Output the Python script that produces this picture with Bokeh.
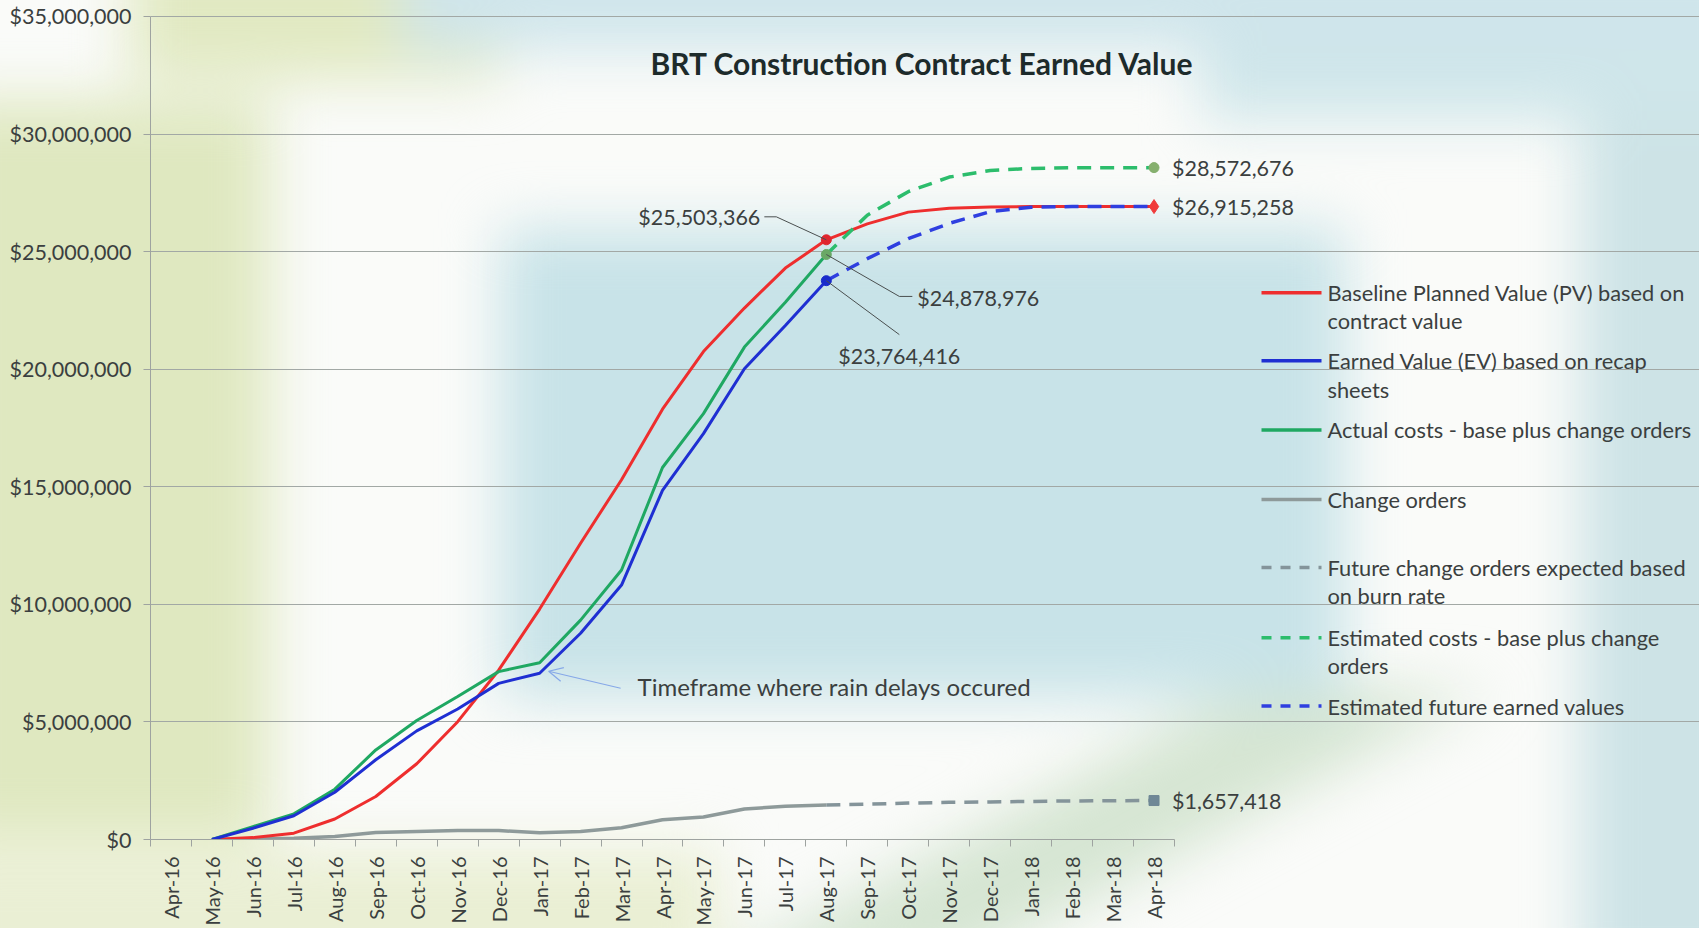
import math
from bokeh.plotting import figure
from bokeh.models import (Range1d, FixedTicker, NumeralTickFormatter, Label, Arrow, OpenHead,
                          ColumnDataSource, InlineStyleSheet)
from bokeh.embed import file_html
from bokeh.resources import INLINE

# ---------------- data ----------------
months = ["Apr-16", "May-16", "Jun-16", "Jul-16", "Aug-16", "Sep-16", "Oct-16", "Nov-16", "Dec-16",
          "Jan-17", "Feb-17", "Mar-17", "Apr-17", "May-17", "Jun-17", "Jul-17", "Aug-17",
          "Sep-17", "Oct-17", "Nov-17", "Dec-17", "Jan-18", "Feb-18", "Mar-18", "Apr-18"]
N = None
planned_value = [N, 0, 80_000, 270_000, 870_000, 1_830_000, 3_220_000, 5_010_000, 7_200_000,
                 9_800_000, 12_600_000, 15_300_000, 18_300_000, 20_750_000, 22_600_000, 24_300_000,
                 25_503_366, 26_180_000, 26_680_000, 26_840_000, 26_900_000, 26_915_258,
                 26_915_258, 26_915_258, 26_915_258]
earned_value = [N, 0, 480_000, 1_010_000, 2_010_000, 3_390_000, 4_620_000, 5_550_000, 6_640_000,
                7_070_000, 8_770_000, 10_820_000, 14_850_000, 17_260_000, 20_020_000, 21_860_000,
                23_764_416, N, N, N, N, N, N, N, N]
actual_costs = [N, 0, 550_000, 1_090_000, 2_140_000, 3_810_000, 5_060_000, 6_080_000, 7_140_000,
                7_520_000, 9_330_000, 11_460_000, 15_820_000, 18_110_000, 20_940_000, 22_850_000,
                24_878_976, N, N, N, N, N, N, N, N]
change_orders = [N, 0, 20_000, 50_000, 130_000, 300_000, 340_000, 380_000, 380_000,
                 290_000, 340_000, 500_000, 840_000, 960_000, 1_300_000, 1_410_000,
                 1_470_000, N, N, N, N, N, N, N, N]
future_change_orders = [N] * 16 + [1_470_000, 1_500_000, 1_550_000, 1_580_000, 1_600_000,
                                   1_620_000, 1_640_000, 1_650_000, 1_657_418]
estimated_costs = [N] * 16 + [24_878_976, 26_550_000, 27_550_000, 28_170_000, 28_450_000,
                              28_540_000, 28_565_000, 28_570_000, 28_572_676]
estimated_ev = [N] * 16 + [23_764_416, 24_700_000, 25_550_000, 26_200_000, 26_700_000,
                           26_890_000, 26_915_258, 26_915_258, 26_915_258]

legend_labels = [
    ["Baseline Planned Value (PV) based on", "contract value"],
    ["Earned Value (EV) based on recap", "sheets"],
    ["Actual costs - base plus change orders"],
    ["Change orders"],
    ["Future change orders expected based", "on burn rate"],
    ["Estimated costs - base plus change", "orders"],
    ["Estimated future earned values"],
]
title_text = "BRT Construction Contract Earned Value"
rain_note = "Timeframe where rain delays occured"

# ---------------- layout ----------------
W, H = 1699, 928
LEFT, BOTTOM_PAD = 150, 88
PLOT_TOP = 16            # pixel row of the $35M line
NCAT = len(months)
CAT_W = 1024 / NCAT      # pixels per month
YMAX = 35_000_000
FRAME_W = W - LEFT
FRAME_H = H - BOTTOM_PAD
PX_PER_D = (FRAME_H - PLOT_TOP) / YMAX
X_END = FRAME_W / CAT_W
Y_END = FRAME_H / PX_PER_D
FONT = "Lato"
TXT = "#3b3f3f"
NUM_SIZE = "21.5px"
WORD_SIZE = "24px"
LEG_SIZE = "21.8px"

def xd(px):  # absolute screen x -> data x
    return (px - LEFT) / CAT_W

def yd(py):  # absolute screen y -> data y
    return (FRAME_H - py) / PX_PER_D

def ddx(px):
    return px / CAT_W

def ddy(px):  # screen offset (down positive) -> data offset
    return -px / PX_PER_D

def nan(v):
    return float("nan") if v is None else v

xs = [i + 0.5 for i in range(NCAT)]

# ---------------- soft watermark-like background (CSS) ----------------
O = 60
shapes = [  # color, x, y, w, h  (page pixels)
    ("#c8e3e8", 500, 228, 845, 470),
    ("#cfe5eb", 400, -60, 1360, 110),
    ("#cfe6ea", 1200, -60, 560, 180),
    ("#cde3e6", 1580, -60, 180, 1050),
    ("#dfe8c0", -60, 100, 330, 740),
    ("#e1e9c2", 130, -60, 370, 140),
    ("#eaefd4", -60, 850, 780, 140),
]
layers = ["linear-gradient({c},{c}) {x}px {y}px / {w}px {h}px no-repeat".format(
    c=c, x=x + O, y=y + O, w=w, h=h) for c, x, y, w, h in shapes]
layers.append("linear-gradient(152deg, transparent 0 42%, #d5e5d2 46% 58%, transparent 62%) "
              "{}px {}px / 1000px 290px no-repeat".format(560 + O, 690 + O))
css = """
:host { position: relative; isolation: isolate; overflow: hidden; background: #fafbf9; }
:host::before { content: ""; position: absolute; left: -%dpx; top: -%dpx;
  width: %dpx; height: %dpx; z-index: -1; filter: blur(28px); background: %s; }
""" % (O, O, W + 2 * O, H + 2 * O, ", ".join(layers))

p = figure(width=W, height=H, output_backend="svg", toolbar_location=None,
           x_range=Range1d(0, X_END), y_range=Range1d(0, Y_END),
           min_border_left=LEFT, min_border_right=0,
           min_border_top=0, min_border_bottom=BOTTOM_PAD)
p.stylesheets = [InlineStyleSheet(css=css)]
p.outline_line_color = None
p.background_fill_color = None
p.border_fill_color = None

# ---------------- axes ----------------
p.yaxis.ticker = FixedTicker(ticks=list(range(0, YMAX + 1, 5_000_000)))
p.yaxis.bounds = (0, YMAX)
p.yaxis.formatter = NumeralTickFormatter(format="$0,0")
p.yaxis.major_label_text_font = FONT
p.yaxis.major_label_text_font_size = NUM_SIZE
p.yaxis.major_label_text_color = TXT
p.yaxis.axis_line_color = "#9ea3a0"
p.yaxis.major_tick_line_color = "#9ea3a0"
p.yaxis.major_tick_out = 7
p.yaxis.major_tick_in = 0
p.yaxis.minor_tick_line_color = None
p.yaxis.major_label_standoff = 12

p.xaxis.ticker = FixedTicker(ticks=xs, minor_ticks=list(range(NCAT + 1)))
p.xaxis.bounds = (0, NCAT)
p.xaxis.major_label_overrides = {x: m for x, m in zip(xs, months)}
p.xaxis.major_label_orientation = math.pi / 2
p.xaxis.major_label_text_font = FONT
p.xaxis.major_label_text_font_size = "20px"
p.xaxis.major_label_text_color = TXT
p.xaxis.axis_line_color = "#9ea3a0"
p.xaxis.major_tick_line_color = None
p.xaxis.minor_tick_line_color = "#9ea3a0"
p.xaxis.minor_tick_out = 7
p.xaxis.minor_tick_in = 0
p.xaxis.major_label_standoff = 10

p.xgrid.grid_line_color = None
p.ygrid.grid_line_color = "#a2a8a5"
p.ygrid.grid_line_width = 1
p.ygrid.bounds = (0, NCAT)

# ---------------- series ----------------
RED, BLUE, GREEN, GRAY = "#ee2e2e", "#1f2fd2", "#1fa862", "#8e9a9a"
GREEN_D, BLUE_D, GRAY_D = "#2cbd6c", "#2f3fe0", "#84949a"
DASH = "14 9"

def src(vals):
    return ColumnDataSource(dict(x=xs, y=[nan(v) for v in vals]))

p.line("x", "y", source=src(change_orders), line_color=GRAY, line_width=3.5)
p.line("x", "y", source=src(future_change_orders), line_color=GRAY_D, line_width=3.5, line_dash=DASH)
p.line("x", "y", source=src(planned_value), line_color=RED, line_width=3)
p.line("x", "y", source=src(estimated_costs), line_color=GREEN_D, line_width=3.5, line_dash=DASH)
p.line("x", "y", source=src(estimated_ev), line_color=BLUE_D, line_width=3.5, line_dash=DASH)
p.line("x", "y", source=src(actual_costs), line_color=GREEN, line_width=3)
p.line("x", "y", source=src(earned_value), line_color=BLUE, line_width=3)

i_now = 16
i_end = NCAT - 1
p.scatter([xs[i_now]], [planned_value[i_now]], marker="circle", size=10, color="#e0262e")
p.scatter([xs[i_now]], [actual_costs[i_now]], marker="circle", size=10, color="#6aa866")
p.scatter([xs[i_now]], [earned_value[i_now]], marker="circle", size=10, color="#1a2ccc")
p.scatter([xs[i_end]], [estimated_costs[i_end]], marker="circle", size=10, color="#86b06e")
p.scatter([xs[i_end]], [planned_value[i_end]], marker="diamond", size=14, color="#f03a3a")
p.scatter([xs[i_end]], [future_change_orders[i_end]], marker="square", size=10, color="#6f8896")

# ---------------- annotations ----------------
def money(v):
    return "${:,.0f}".format(v)

def text(x, y, t, align="left", size=NUM_SIZE, color=TXT, style="normal"):
    p.add_layout(Label(x=x, y=y, text=t, text_align=align, text_baseline="middle",
                       text_font=FONT, text_font_size=size, text_color=color, text_font_style=style))

def seg(x0, y0, x1, y1, color="#4a4f4f", width=1, dash="solid", head=None):
    p.add_layout(Arrow(x_start=x0, y_start=y0, x_end=x1, y_end=y1, line_color=color,
                       line_width=width, line_dash=dash, end=head))

xn = xs[i_now]
pv = planned_value[i_now]
text(xn + ddx(-66), pv + ddy(-23), money(pv), align="right")
seg(xn + ddx(-62), pv + ddy(-23), xn + ddx(-50), pv + ddy(-23))
seg(xn + ddx(-50), pv + ddy(-23), xn, pv)
ac = actual_costs[i_now]
text(xn + ddx(91), ac + ddy(44), money(ac))
seg(xn, ac, xn + ddx(73), ac + ddy(42))
seg(xn + ddx(73), ac + ddy(42), xn + ddx(86), ac + ddy(42))
ev = earned_value[i_now]
text(xn + ddx(12), ev + ddy(75), money(ev))
seg(xn, ev, xn + ddx(73), ev + ddy(54))

xe = xs[i_end]
text(xe + ddx(18), estimated_costs[i_end], money(estimated_costs[i_end]))
text(xe + ddx(18), planned_value[i_end], money(planned_value[i_end]))
text(xe + ddx(18), future_change_orders[i_end], money(future_change_orders[i_end]))

i_rain = 9
xr, yr = xs[i_rain], earned_value[i_rain]
text(xr + ddx(98), yr + ddy(13), rain_note, size=WORD_SIZE)
seg(xr + ddx(81), yr + ddy(15), xr + ddx(9), yr + ddy(-2), color="#86a8e8", width=1.2,
    head=OpenHead(size=14, line_color="#86a8e8", line_width=1.2))

text(xd(922), yd(63), title_text, align="center", size="30px", color="#1d2b2b", style="bold")

# ---------------- legend ----------------
leg_styles = [(RED, "solid"), (BLUE, "solid"), (GREEN, "solid"), (GRAY, "solid"),
              (GRAY_D, "10 9"), (GREEN_D, "10 9"), (BLUE_D, "10 9")]
leg_y = [292.5, 360.8, 430, 499.5, 567.7, 638, 706.4]
for (col, dash), ly, lines in zip(leg_styles, leg_y, legend_labels):
    seg(xd(1261), yd(ly), xd(1321), yd(ly), color=col, width=3.5, dash=dash)
    for k, ln in enumerate(lines):
        text(xd(1327), yd(ly + 28.2 * k), ln, size=LEG_SIZE)

open("out.html", "w").write(file_html(p, INLINE))
